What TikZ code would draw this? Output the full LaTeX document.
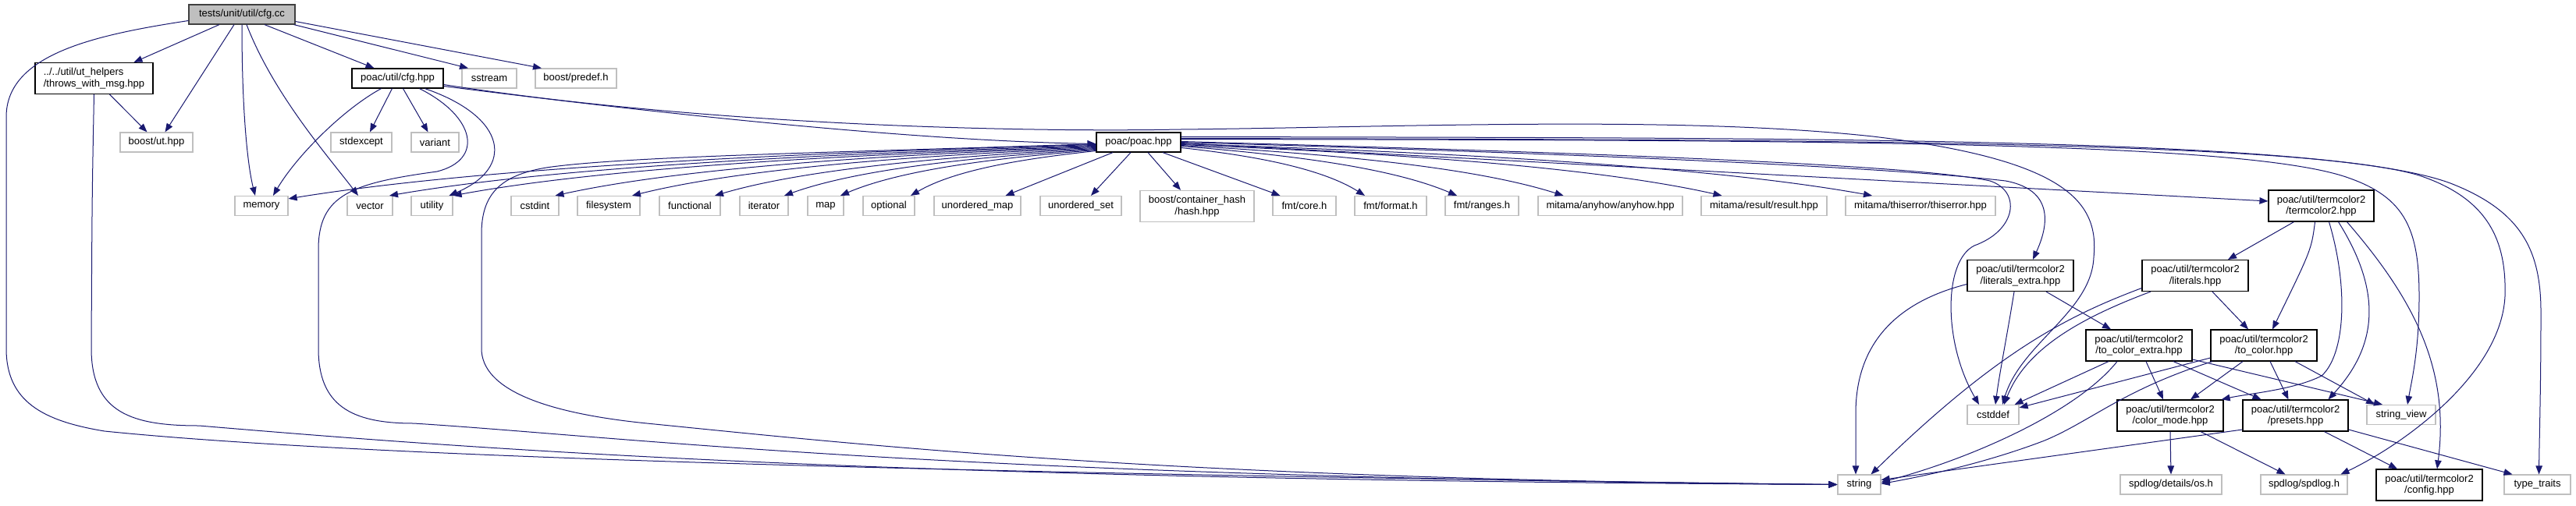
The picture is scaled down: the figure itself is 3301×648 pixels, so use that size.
\documentclass[tikz,border=0pt]{standalone}
\usepackage{fontspec}
\setmainfont{Liberation Sans}
\usetikzlibrary{arrows.meta}
\definecolor{edgecol}{HTML}{191970}
\definecolor{extgray}{HTML}{BFBFBF}
\begin{document}
\begin{tikzpicture}[x=1pt,y=-1pt,
  font=\fontsize{13}{14.5}\selectfont,
  nb/.style={rectangle, inner sep=0pt, minimum height=25pt, align=center, line width=1.2pt},
  extbox/.style={nb, draw=extgray},
  docbox/.style={nb, draw=black},
  rootbox/.style={nb, draw=black!75, fill=extgray},
  tall/.style={minimum height=40pt},
  edge/.style={draw=edgecol, line width=1pt, -{Triangle[length=11pt,width=8.5pt]}},
]
\fill[white] (0,0) rectangle (3301,648);
\useasboundingbox (0,0) rectangle (3301,648);

% ---------- nodes ----------
\node[rootbox, minimum width=136pt] (cfgcc) at (310,18.5) {tests/unit/util/cfg.cc};
\node[docbox, tall, minimum width=151pt, align=left] (throws) at (120.5,100.5) {../../util/ut\_helpers\\/throws\_with\_msg.hpp};
\node[docbox, minimum width=117pt] (cfghpp) at (509.5,100.5) {poac/util/cfg.hpp};
\node[extbox, minimum width=70pt] (sstream) at (627,100.5) {sstream};
\node[extbox, minimum width=104pt] (predef) at (738,100.5) {boost/predef.h};
\node[extbox, minimum width=93pt] (ut) at (200.5,182.5) {boost/ut.hpp};
\node[extbox, minimum width=78pt] (stdexcept) at (463,182.5) {stdexcept};
\node[extbox, minimum width=61pt] (variant) at (557.5,182.5) {variant};
\node[docbox, minimum width=108pt] (poachpp) at (1459,182.5) {poac/poac.hpp};

\node[extbox, minimum width=68pt] (memory) at (335,264) {memory};
\node[extbox, minimum width=58pt] (vector) at (474,264) {vector};
\node[extbox, minimum width=53pt] (utility) at (553.5,264) {utility};
\node[extbox, minimum width=61pt] (cstdint) at (685.5,264) {cstdint};
\node[extbox, minimum width=80pt] (filesystem) at (780,264) {filesystem};
\node[extbox, minimum width=78pt] (functional) at (884,264) {functional};
\node[extbox, minimum width=62pt] (iterator) at (979,264) {iterator};
\node[extbox, minimum width=46pt] (map) at (1058,264) {map};
\node[extbox, minimum width=66pt] (optional) at (1139,264) {optional};
\node[extbox, minimum width=111pt] (unorderedmap) at (1252.5,264) {unordered\_map};
\node[extbox, minimum width=104pt] (unorderedset) at (1385,264) {unordered\_set};
\node[extbox, tall, minimum width=146pt] (hash) at (1534,264.5) {boost/container\_hash\\/hash.hpp};
\node[extbox, minimum width=81pt] (fmtcore) at (1671.5,264) {fmt/core.h};
\node[extbox, minimum width=92pt] (fmtformat) at (1782,264) {fmt/format.h};
\node[extbox, minimum width=94pt] (fmtranges) at (1899,264) {fmt/ranges.h};
\node[extbox, minimum width=185pt] (anyhow) at (2063.5,264) {mitama/anyhow/anyhow.hpp};
\node[extbox, minimum width=161pt] (result) at (2260.5,264) {mitama/result/result.hpp};
\node[extbox, minimum width=192pt] (thiserror) at (2461,264) {mitama/thiserror/thiserror.hpp};
\node[docbox, tall, minimum width=135pt] (termcolor) at (2974.5,264) {poac/util/termcolor2\\/termcolor2.hpp};

\node[docbox, tall, minimum width=136pt] (litextra) at (2589,353.5) {poac/util/termcolor2\\/literals\_extra.hpp};
\node[docbox, tall, minimum width=136pt] (literals) at (2813,353.5) {poac/util/termcolor2\\/literals.hpp};
\node[docbox, tall, minimum width=136pt] (tocolorextra) at (2741,443) {poac/util/termcolor2\\/to\_color\_extra.hpp};
\node[docbox, tall, minimum width=136pt] (tocolor) at (2901,443) {poac/util/termcolor2\\/to\_color.hpp};

\node[extbox, minimum width=66pt] (cstddef) at (2554,532) {cstddef};
\node[docbox, tall, minimum width=136pt] (colormode) at (2781,533) {poac/util/termcolor2\\/color\_mode.hpp};
\node[docbox, tall, minimum width=135pt] (presets) at (2941.5,533) {poac/util/termcolor2\\/presets.hpp};
\node[extbox, minimum width=88pt] (stringview) at (3077,532) {string\_view};

\node[extbox, minimum width=55pt] (string) at (2382.5,621.5) {string};
\node[extbox, minimum width=130pt] (spdlogos) at (2782,621.5) {spdlog/details/os.h};
\node[extbox, minimum width=111pt] (spdlog) at (2952.5,621.5) {spdlog/spdlog.h};
\node[docbox, tall, minimum width=136pt] (config) at (3113,622) {poac/util/termcolor2\\/config.hpp};
\node[extbox, minimum width=85pt] (typetraits) at (3251.5,621.5) {type\_traits};

% ---------- edges: cfg.cc ----------
\draw[edge] ([yshift=-8pt]cfgcc.west) .. controls (120,45) and (8,70) .. (8,150) -- (8,447) .. controls (8,515) and (55,540) .. (134,553) .. controls (400,580) and (1000,605) .. (string.west);
\draw[edge] ([xshift=-29pt]cfgcc.south) -- ([xshift=51pt]throws.north);
\draw[edge] ([xshift=-10pt]cfgcc.south) -- ([xshift=11pt]ut.north);
\draw[edge] (cfgcc.south) .. controls (310,150) and (318,215) .. ([xshift=-8pt]memory.north);
\draw[edge] ([xshift=6pt]cfgcc.south) .. controls (350,120) and (420,200) .. ([xshift=-15pt]vector.north);
\draw[edge] ([xshift=29pt]cfgcc.south) -- ([xshift=-30pt]cfghpp.north);
\draw[edge] ([xshift=-2pt]cfgcc.south east) -- ([xshift=-27pt]sstream.north);
\draw[edge] ([yshift=-9pt]cfgcc.east) -- ([xshift=-44pt]predef.north);

% ---------- throws_with_msg ----------
\draw[edge] ([xshift=20pt]throws.south) -- ([xshift=-12pt]ut.north);
\draw[edge] (throws.south) .. controls (118,250) .. (117,447) .. controls (117,530) and (170,546) .. (255,546) .. controls (600,575) and (1100,615) .. (string.west);

% ---------- cfg.hpp ----------
\draw[edge] ([xshift=-21pt]cfghpp.south) .. controls (440,140) and (380,200) .. ([xshift=15pt]memory.north);
\draw[edge] ([xshift=-7pt]cfghpp.south) -- ([xshift=11pt]stdexcept.north);
\draw[edge] ([xshift=7pt]cfghpp.south) -- ([xshift=-9pt]variant.north);
\draw[edge] ([xshift=28pt]cfghpp.south) .. controls (610,150) and (620,205) .. (560,220) .. controls (450,235) and (408,250) .. (408,320) -- (408,447) .. controls (408,520) and (450,543) .. (530,543) .. controls (800,560) and (1200,612) .. (string.west);
\draw[edge] ([xshift=35pt]cfghpp.south) .. controls (650,150) and (660,215) .. ([xshift=22pt]utility.north);
\draw[edge] ([yshift=-10pt]cfghpp.east) .. controls (800,140) and (1150,180) .. ([yshift=-2pt]poachpp.west);
\draw[edge] ([yshift=-8pt]cfghpp.east) .. controls (900,160) and (1300,170) .. (1513,166) .. controls (1800,163) and (2150,148) .. (2400,175) .. controls (2650,205) and (2690,260) .. (2683,330) .. controls (2680,400) and (2590,440) .. ([xshift=12pt]cstddef.north);

% ---------- poac.hpp ----------
\draw[edge] ([yshift=-3pt]poachpp.west) .. controls +(-363,10) and +(259,-42) .. ([yshift=-4pt]memory.north east);
\draw[edge] ([yshift=-4pt]poachpp.west) .. controls +(-317,10) and +(227,-39) .. ([xshift=25pt]vector.north);
\draw[edge] ([yshift=-5pt]poachpp.west) .. controls +(-289,10) and +(206,-38) .. (utility.north east);
\draw[edge] ([yshift=-6pt]poachpp.west) .. controls +(-243,9) and +(173,-38) .. ([xshift=26pt]cstdint.north);
\draw[edge] ([yshift=-7pt]poachpp.west) .. controls +(-208,9) and +(149,-37) .. ([xshift=30pt]filesystem.north);
\draw[edge] ([yshift=-8pt]poachpp.west) .. controls +(-171,9) and +(122,-36) .. ([xshift=32pt]functional.north);
\draw[edge] ([yshift=-9pt]poachpp.west) .. controls +(-140,9) and +(100,-36) .. ([xshift=26pt]iterator.north);
\draw[edge] ([yshift=-10pt]poachpp.west) .. controls +(-115,9) and +(82,-35) .. ([xshift=19pt]map.north);
\draw[edge] ([yshift=-11pt]poachpp.west) .. controls +(-83,9) and +(60,-35) .. ([xshift=28pt]optional.north);
\draw[edge] ([xshift=-33pt]poachpp.south) -- ([xshift=36pt]unorderedmap.north);
\draw[edge] ([xshift=-10pt]poachpp.south) -- ([xshift=13pt]unorderedset.north);
\draw[edge] ([xshift=12pt]poachpp.south) -- ([xshift=-21pt]hash.north);
\draw[edge] ([xshift=31pt]poachpp.south) -- ([xshift=-31pt]fmtcore.north);
\draw[edge] ([yshift=-7pt]poachpp.east) .. controls +(83,9) and +(-59,-37) .. ([xshift=-33pt]fmtformat.north);
\draw[edge] ([yshift=-5pt]poachpp.east) .. controls +(124,10) and +(-89,-38) .. ([xshift=-32pt]fmtranges.north);
\draw[edge] ([yshift=-4pt]poachpp.east) .. controls +(172,10) and +(-123,-39) .. ([xshift=-60pt]anyhow.north);
\draw[edge] ([yshift=-3pt]poachpp.east) .. controls +(243,10) and +(-173,-39) .. ([xshift=-54pt]result.north);
\draw[edge] ([yshift=-2pt]poachpp.east) .. controls +(310,10) and +(-222,-40) .. ([xshift=-62pt]thiserror.north);
\draw[edge] ([yshift=-1pt]poachpp.east) -- ([yshift=6pt]termcolor.west);
\draw[edge] (poachpp.east) .. controls (1950,195) and (2400,212) .. (2570,232) .. controls (2640,245) and (2620,300) .. ([xshift=16pt]litextra.north);
\draw[edge] ([yshift=1pt]poachpp.east) .. controls (2000,195) and (2450,210) .. (2550,232) .. controls (2590,245) and (2585,295) .. (2530,315) .. controls (2490,335) and (2490,440) .. ([xshift=-18pt]cstddef.north);
\draw[edge] ([yshift=4pt]poachpp.east) .. controls (2300,180) and (2850,180) .. (3000,225) .. controls (3080,250) and (3100,290) .. (3100,380) .. controls (3100,450) and (3090,490) .. ([xshift=8pt]stringview.north);
\draw[edge] ([yshift=5pt]poachpp.east) .. controls (2300,179) and (2950,180) .. (3100,225) .. controls (3190,255) and (3212,310) .. (3210,380) .. controls (3205,480) and (3080,570) .. ([xshift=47pt]spdlog.north);
\draw[edge] ([yshift=7pt]poachpp.east) .. controls (2300,177) and (2980,175) .. (3140,235) .. controls (3230,270) and (3256,320) .. (3256,400) .. controls (3256,500) and (3254,560) .. ([xshift=2pt]typetraits.north);
\draw[edge] ([yshift=-2pt]poachpp.west) .. controls (1100,195) and (800,200) .. (700,215) .. controls (640,225) and (617,250) .. (617,300) -- (617,447) .. controls (617,500) and (700,530) .. (829,543) .. controls (1100,570) and (1500,615) .. (string.west);

% ---------- termcolor2.hpp ----------
\draw[edge] ([xshift=-35pt]termcolor.south) -- ([xshift=42pt]literals.north);
\draw[edge] ([xshift=-8pt]termcolor.south) .. controls (2962,320) .. ([xshift=11pt]tocolor.north);
\draw[edge] ([xshift=10pt]termcolor.south) .. controls (3010,370) and (3005,455) .. (2975,482) .. controls (2940,500) and (2880,505) .. ([xshift=-3pt]colormode.north east);
\draw[edge] ([xshift=22pt]termcolor.south) .. controls (3050,370) and (3050,440) .. ([xshift=42pt]presets.north);
\draw[edge] ([xshift=33pt]termcolor.south) .. controls (3090,380) and (3140,470) .. ([xshift=10pt]config.north);

% ---------- literals_extra.hpp ----------
\draw[edge] ([yshift=-11pt]litextra.west) .. controls (2420,390) and (2378,450) .. (2378,530) -- ([xshift=-4.5pt]string.north);
\draw[edge] ([xshift=-8pt]litextra.south) .. controls (2572,430) and (2562,480) .. ([xshift=3pt]cstddef.north);
\draw[edge] ([xshift=33pt]litextra.south) -- ([xshift=-36pt]tocolorextra.north);

% ---------- literals.hpp ----------
\draw[edge] ([yshift=-16pt]literals.west) .. controls (2650,405) and (2560,450) .. ([xshift=15pt]string.north);
\draw[edge] ([xshift=-57pt]literals.south) .. controls (2660,410) and (2595,450) .. ([xshift=14pt]cstddef.north);
\draw[edge] ([xshift=22pt]literals.south) -- ([xshift=-20pt]tocolor.north);

% ---------- to_color_extra.hpp ----------
\draw[edge] ([xshift=-39pt]tocolorextra.south) -- ([xshift=-6pt]cstddef.north east);
\draw[edge] ([xshift=-28pt]tocolorextra.south) .. controls (2660,530) and (2520,590) .. ([yshift=3pt]string.east);
\draw[edge] ([xshift=9pt]tocolorextra.south) -- ([xshift=-9pt]colormode.north);
\draw[edge] ([xshift=44pt]tocolorextra.south) -- ([xshift=-44pt]presets.north);
\draw[edge] ([yshift=-18pt]tocolorextra.east) -- ([xshift=-24pt]stringview.north);

% ---------- to_color.hpp ----------
\draw[edge] ([yshift=-16pt]tocolor.west) -- ([yshift=-4pt]cstddef.north east);
\draw[edge] ([xshift=-66pt]tocolor.south) .. controls (2720,500) and (2680,540) .. (2620,565) .. controls (2550,592) and (2470,610) .. ([yshift=1pt]string.east);
\draw[edge] ([xshift=-27pt]tocolor.south) -- ([xshift=26pt]colormode.north);
\draw[edge] ([xshift=8pt]tocolor.south) -- ([xshift=-9pt]presets.north);
\draw[edge] ([xshift=40pt]tocolor.south) -- ([xshift=-34pt]stringview.north);

% ---------- color_mode.hpp ----------
\draw[edge] (colormode.south) -- (spdlogos.north);
\draw[edge] ([xshift=39pt]colormode.south) -- ([xshift=-24pt]spdlog.north);

% ---------- presets.hpp ----------
\draw[edge] ([yshift=-18pt]presets.west) -- ([yshift=6pt]string.east);
\draw[edge] ([xshift=37pt]presets.south) -- ([xshift=-41pt]config.north);
\draw[edge] ([yshift=-18pt]presets.east) -- ([xshift=-32pt]typetraits.north);
\end{tikzpicture}
\end{document}
